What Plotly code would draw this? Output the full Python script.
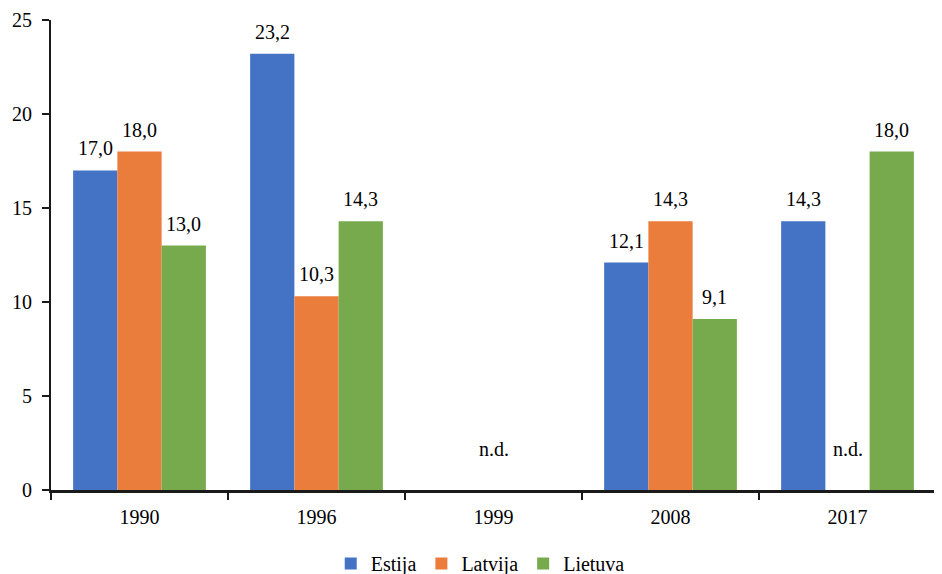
import plotly.graph_objects as go

categories = ["1990", "1996", "1999", "2008", "2017"]
estija = [17.0, 23.2, None, 12.1, 14.3]
latvija = [18.0, 10.3, None, 14.3, None]
lietuva = [13.0, 14.3, None, 9.1, 18.0]
series_names = ["Estija", "Latvija", "Lietuva"]
colors = ["#4472C4", "#EB7D3C", "#77AA4C"]
missing_label = "n.d."

W, H = 942, 574
margin = dict(l=43, r=14, t=12, b=92, autoexpand=False)
bargap = 0.25
FONT = "Liberation Serif"
FS = 20

fig = go.Figure()
all_series = [estija, latvija, lietuva]
for name, vals, col in zip(series_names, all_series, colors):
    fig.add_trace(go.Bar(
        x=categories, y=vals, name=name,
        marker=dict(color=col, line=dict(width=0)),
    ))

# data labels via annotations, shifted to bar centres
plot_w = W - margin["l"] - margin["r"]
cat_w = plot_w / len(categories)
bar_w = cat_w * (1 - bargap) / len(all_series)
ann = []
for i, vals in enumerate(all_series):
    shift = (i - (len(all_series) - 1) / 2) * bar_w
    for ci, v in enumerate(vals):
        if v is None:
            continue
        ann.append(dict(x=ci, y=v, xref="x", yref="y", text=f"{v:.1f}".replace(".", ","),
                        showarrow=False, yanchor="bottom", yshift=9, xshift=shift,
                        font=dict(family=FONT, size=FS, color="#000")))
# n.d. labels where latvija is missing
for ci, l in enumerate(latvija):
    if l is None:
        ann.append(dict(x=ci, y=0, xref="x", yref="y", text=missing_label, showarrow=False,
                        yanchor="bottom", yshift=28,
                        font=dict(family=FONT, size=FS, color="#000")))

fig.update_layout(
    width=W, height=H, margin=margin,
    barmode="group", bargap=bargap, bargroupgap=0,
    plot_bgcolor="white", paper_bgcolor="white",
    font=dict(family=FONT, size=FS, color="#000"),
    annotations=ann,
    legend=dict(orientation="h", x=0.485, xanchor="center", y=-0.115, yanchor="top",
                bgcolor="rgba(0,0,0,0)",
                font=dict(family=FONT, size=FS), itemwidth=30, tracegroupgap=0),
)
fig.update_xaxes(type="category", categoryorder="array", categoryarray=categories,
                 range=[-0.5, len(categories) - 0.5], automargin=False,
                 showline=True, linecolor="#1a1a1a", linewidth=3,
                 ticks="outside", tickson="boundaries", ticklen=7, tickcolor="#1a1a1a",
                 tickwidth=1.5, showgrid=False, tickfont=dict(size=FS), zeroline=False,
                 ticklabelstandoff=7)
fig.update_yaxes(range=[0, 25], dtick=5, showline=True, linecolor="#1a1a1a", linewidth=2,
                 automargin=False,
                 ticks="outside", ticklen=7, tickcolor="#1a1a1a", tickwidth=1.5,
                 showgrid=False, zeroline=False, tickfont=dict(size=FS),
                 ticklabelstandoff=6)

fig.write_html("out.html")
